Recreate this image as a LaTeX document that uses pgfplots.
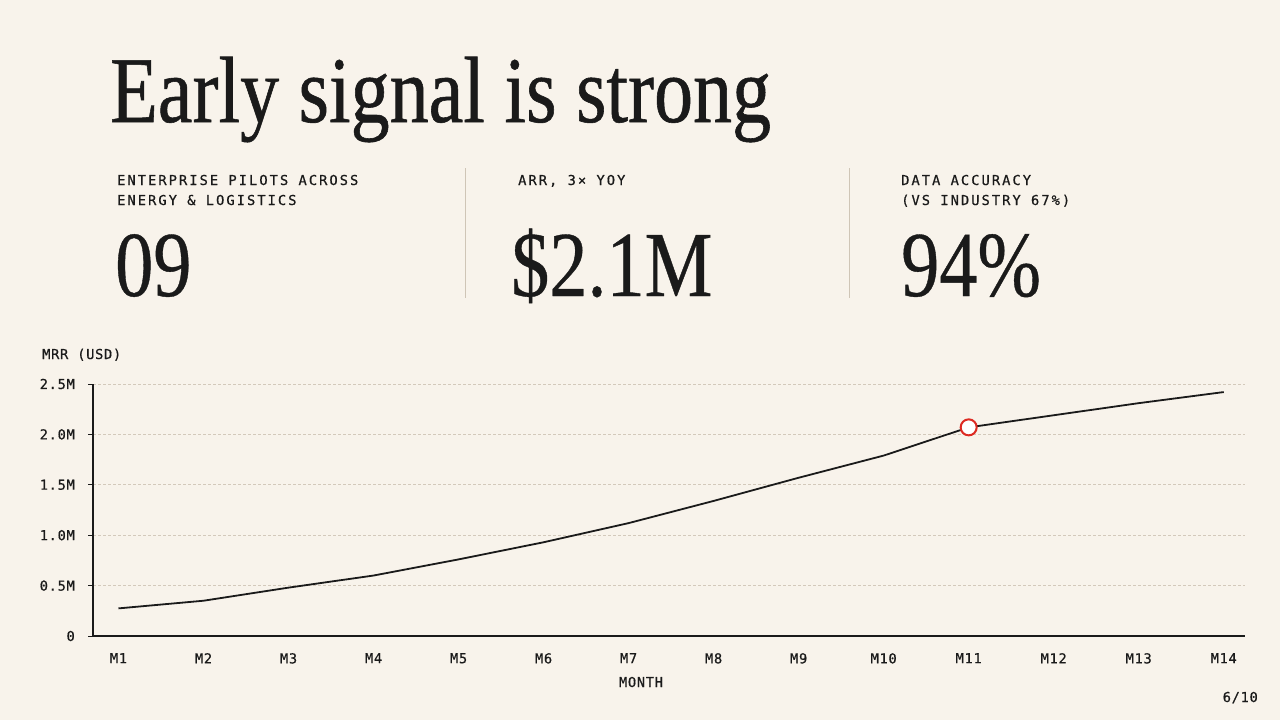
\documentclass[border=0pt]{standalone}
\usepackage{fontspec}
\usepackage{pgfplots}
\usepackage{pgfplotstable}
\pgfplotsset{compat=1.18}
\setmainfont{Liberation Serif}
\newfontfamily\titlefont[FakeStretch=0.83,FakeBold=0.6]{Liberation Serif}
\newfontfamily\bigfont[FakeStretch=0.82,FakeBold=0.4]{Liberation Serif}
\newfontfamily\capsfont[LetterSpace=15,FakeBold=0.6]{DejaVu Sans Mono}
\newfontfamily\tickfont[LetterSpace=5,FakeBold=0.6]{DejaVu Sans Mono}

\definecolor{paper}{HTML}{F8F3EB}
\definecolor{ink}{HTML}{1A1A1A}
\definecolor{rule}{HTML}{CFC5B6}
\definecolor{gridc}{HTML}{D3C9BB}
\definecolor{accent}{HTML}{DD2A22}

% Monthly recurring revenue, millions of USD
\pgfplotstableread{
month mrr
1  0.274
2  0.350
3  0.480
4  0.600
5  0.760
6  0.930
7  1.120
8  1.340
9  1.570
10 1.790
11 2.070
12 2.190
13 2.310
14 2.420
}\mrrdata

\newcommand{\capsize}{\fontsize{13.7}{20}\selectfont}

\begin{document}
\begin{tikzpicture}
\useasboundingbox (0,0) rectangle (1280pt,-720pt);
\fill[paper] (0,0) rectangle (1280pt,-720pt);

% headline
\node[anchor=base west, inner sep=0, text=ink, font={\titlefont\fontsize{94}{94}\selectfont}]
  at (110pt,-122pt) {Early signal is strong};

% key figures
\node[anchor=base west, inner sep=0, text=ink, font={\capsfont\capsize}] at (117pt,-185pt) {ENTERPRISE PILOTS ACROSS};
\node[anchor=base west, inner sep=0, text=ink, font={\capsfont\capsize}] at (117pt,-205pt) {ENERGY \& LOGISTICS};
\node[anchor=base west, inner sep=0, text=ink, font={\capsfont\capsize}] at (518pt,-185pt) {ARR, 3× YOY};
\node[anchor=base west, inner sep=0, text=ink, font={\capsfont\capsize}] at (901pt,-185pt) {DATA ACCURACY};
\node[anchor=base west, inner sep=0, text=ink, font={\capsfont\capsize}] at (901pt,-205pt) {(VS INDUSTRY 67\%)};

\node[anchor=base west, inner sep=0, text=ink, font={\bigfont\fontsize{93}{93}\selectfont}] at (115pt,-296pt) {09};
\node[anchor=base west, inner sep=0, text=ink, font={\bigfont\fontsize{93}{93}\selectfont}] at (511pt,-296pt) {\$2.1M};
\node[anchor=base west, inner sep=0, text=ink, font={\bigfont\fontsize{93}{93}\selectfont}] at (901pt,-296pt) {94\%};

\draw[rule, line width=1pt] (465pt,-168pt) -- (465pt,-298pt);
\draw[rule, line width=1pt] (849pt,-168pt) -- (849pt,-298pt);

% chart
\node[anchor=base west, inner sep=0, text=ink, font={\tickfont\capsize}] at (42pt,-359pt) {MRR (USD)};

\begin{axis}[
  at={(93pt,-636pt)}, anchor=south west,
  scale only axis, width=1152pt, height=252pt,
  xmin=0.7, xmax=14.25, ymin=0, ymax=2.5,
  axis lines*=left,
  axis line style={ink, line width=1.3pt},
  xtick={1,...,14},
  xticklabels={M1,M2,M3,M4,M5,M6,M7,M8,M9,M10,M11,M12,M13,M14},
  ytick={0,0.5,1,1.5,2,2.5},
  yticklabels={0,0.5M,1.0M,1.5M,2.0M,2.5M},
  x tick style={draw=none},
  y tick style={ink, line width=1pt},
  tick align=outside, major tick length=5pt,
  ymajorgrids,
  grid style={gridc, line width=0.9pt, dash pattern=on 3pt off 2pt},
  ticklabel style={font={\tickfont\capsize}, text=ink, inner sep=0pt},
  xticklabel style={anchor=north, yshift=-12pt},
  yticklabel style={anchor=east, xshift=-13pt},
  clip=false,
]
\addplot[ink, line width=1.8pt, mark=none] table[x=month, y=mrr] {\mrrdata};
\addplot[only marks, mark=*, mark size=8pt,
  mark options={fill=white, draw=accent, line width=2pt}] coordinates {(11,2.07)};
\end{axis}

\node[anchor=base, inner sep=0, text=ink, font={\tickfont\capsize}] at (641pt,-687pt) {MONTH};
\node[anchor=base east, inner sep=0, text=ink, font={\tickfont\capsize}] at (1258pt,-702pt) {6/10};
\end{tikzpicture}
\end{document}
